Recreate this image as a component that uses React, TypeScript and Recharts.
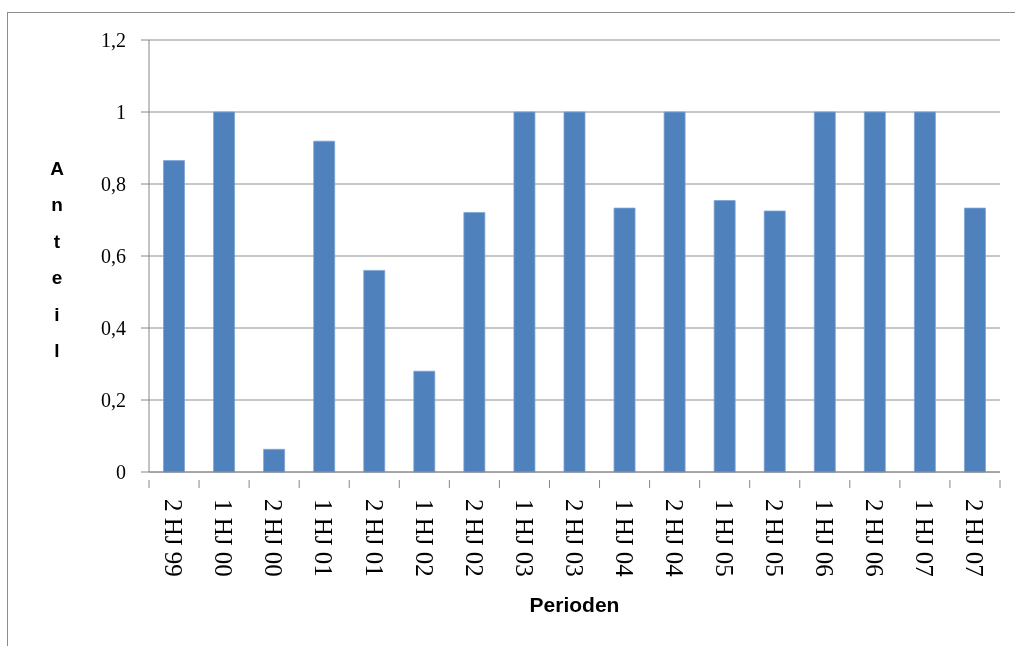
import { Bar, BarChart, CartesianGrid, Label, XAxis, YAxis } from "recharts";

const perioden = [
  "2 HJ 99", "1 HJ 00", "2 HJ 00", "1 HJ 01", "2 HJ 01", "1 HJ 02",
  "2 HJ 02", "1 HJ 03", "2 HJ 03", "1 HJ 04", "2 HJ 04", "1 HJ 05",
  "2 HJ 05", "1 HJ 06", "2 HJ 06", "1 HJ 07", "2 HJ 07",
];
const anteil = [
  0.865, 1, 0.063, 0.919, 0.56, 0.28, 0.721, 1, 1, 0.733, 1, 0.754,
  0.725, 1, 1, 1, 0.733,
];
const yTicks = [0, 0.2, 0.4, 0.6, 0.8, 1, 1.2];

const data = perioden.map((p, i) => ({ periode: p, anteil: anteil[i] }));

const W = 1000;
const H = 630;
const Y_AXIS_W = 141;
const MARGIN_R = 8;
const BAND = (W - Y_AXIS_W - MARGIN_R) / perioden.length;
const AXIS = "#868686";

function PeriodTick(props: any) {
  const { x, y, payload, index } = props;
  const left = x - BAND / 2;
  return (
    <g>
      <line x1={left} y1={y} x2={left} y2={y + 8} stroke={AXIS} />
      {index === perioden.length - 1 && (
        <line x1={x + BAND / 2} y1={y} x2={x + BAND / 2} y2={y + 8} stroke={AXIS} />
      )}
      <text
        transform={`translate(${x},${y + 19}) rotate(90)`}
        textAnchor="start"
        dy="0.35em"
        fontFamily="Liberation Serif"
        fontSize={25}
        fill="#000"
      >
        {payload.value}
      </text>
    </g>
  );
}

function StackedLabel(props: any) {
  const letters = "Anteil".split("");
  const cx = (props.viewBox?.x ?? 0) + 49;
  return (
    <text
      textAnchor="middle"
      fontFamily="Liberation Sans"
      fontWeight="bold"
      fontSize={19}
      fill="#000"
    >
      {letters.map((ch, i) => (
        <tspan key={i} x={cx} y={167 + i * 36.4}>
          {ch}
        </tspan>
      ))}
    </text>
  );
}

export default function App() {
  return (
    <div style={{ position: "relative", width: W, height: H }}>
      {/* outer chart frame, left and top edges only */}
      <div
        style={{
          position: "fixed",
          left: 7,
          top: 12,
          width: 1008,
          height: 634,
          boxSizing: "border-box",
          borderLeft: "1px solid #8c8c8c",
          borderTop: "1px solid #8c8c8c",
          pointerEvents: "none",
        }}
      />
      <BarChart
        width={W}
        height={H}
        data={data}
        margin={{ top: 32, right: MARGIN_R, bottom: 0, left: 0 }}
        barCategoryGap="29%"
      >
        <CartesianGrid vertical={false} stroke="#8e8e8e" />
        <XAxis
          dataKey="periode"
          height={166}
          interval={0}
          tickLine={false}
          axisLine={{ stroke: AXIS }}
          tick={<PeriodTick />}
        >
          <Label
            value="Perioden"
            position="insideBottom"
            offset={26}
            style={{
              fontFamily: "Liberation Sans",
              fontWeight: "bold",
              fontSize: 21,
              fill: "#000",
            }}
          />
        </XAxis>
        <YAxis
          width={Y_AXIS_W}
          domain={[0, 1.2]}
          ticks={yTicks}
          interval={0}
          tickSize={8}
          tickMargin={15}
          tickLine={{ stroke: AXIS }}
          axisLine={{ stroke: AXIS }}
          tickFormatter={(v: number) => String(v).replace(".", ",")}
          tick={{ fontFamily: "Liberation Serif", fontSize: 20, fill: "#000" }}
        >
          <Label content={<StackedLabel />} />
        </YAxis>
        <Bar
          dataKey="anteil"
          fill="#4f81bd"
          stroke="#7ea3d3"
          strokeWidth={0.8}
          isAnimationActive={false}
        />
      </BarChart>
    </div>
  );
}
